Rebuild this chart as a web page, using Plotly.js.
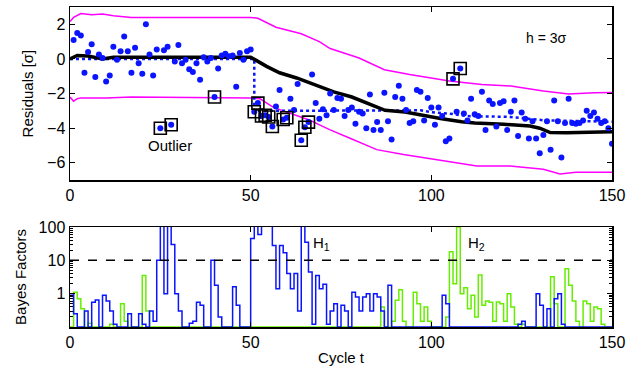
<!DOCTYPE html>
<html>
<head>
<meta charset="utf-8">
<script src="https://cdn.plot.ly/plotly-3.0.1.min.js"></script>
<style>html,body{margin:0;padding:0;background:#fff;}#chart{width:630px;height:370px;}</style>
</head>
<body>
<div id="chart"></div>
<script>
// Residuals for cycles 1..150
const residuals = [
  1.1, 1.5, 1.35, -0.8, 0.4, 0.85, -1.05, 0.25, 0.05, -1.3,
  -0.95, 0.7, -0.05, 0.45, 1.3, 0.45, -0.8, 0.65, -0.25, -0.85,
  2.0, 0.25, -0.95, 0.55, -4.0, 0.5, 0.7, -3.8, -0.15, 0.8,
  -0.25, -0.05, -0.6, -0.75, -0.25, -1.2, 0.1, -0.15, 0.05, -2.2,
  -0.55, 0.2, 0.3, 0.15, 0.2, -1.6, 0.35, -0.05, 0.45, 0.55,
  -3.05, -2.55, -3.3, -3.25, -3.35, -3.9, -2.75, -1.8, -3.5, -3.4,
  -2.3, -2.95, -1.45, -4.7, -3.95, -3.65, -0.9, -2.55, -3.45, -2.9,
  -3.25, -2.0, -2.95, -2.25, -2.3, -3.3, -2.95, -2.8, -3.75, -3.05,
  -3.15, -4.0, -2.05, -4.1, -3.65, -4.1, -1.95, -3.6, -4.65, -2.2,
  -1.55, -2.3, -2.95, -3.7, -3.6, -1.8, -1.9, -3.55, -2.25, -2.8,
  -3.8, -2.8, -3.3, -4.75, -4.6, -1.15, -3.05, -0.55, -3.15, -3.55,
  -2.3, -3.2, -3.3, -1.9, -4.1, -2.4, -2.6, -3.9, -2.55, -2.45,
  -4.1, -3.05, -2.4, -4.45, -3.1, -3.45, -4.6, -3.6, -4.6, -5.45,
  -4.4, -3.6, -5.25, -2.4, -3.6, -5.7, -3.7, -2.3, -3.7, -3.75,
  -3.7, -3.55, -3.0, -3.3, -3.1, -3.45, -3.7, -3.6, -4.0, -4.9
];
// Cycles flagged as outliers (boxed)
const outlierCycles = [25, 28, 40, 51, 52, 53, 54, 55, 56, 59, 60, 64, 65, 66, 106, 108];

// Running level estimate (black)
const levelT = [0, 2, 5, 9, 12, 50, 54.4, 58, 62.7, 67.3, 73, 78, 82.6, 87.2, 92.7, 97.3, 102.9, 108.4, 112, 120, 127.3, 130, 132.9, 137.5, 150];
const levelV = [0, 0.2, 0.17, 0, 0.1, 0.1, -0.43, -0.8, -1.1, -1.47, -1.9, -2.2, -2.6, -2.97, -3.07, -3.26, -3.45, -3.63, -3.7, -3.77, -3.88, -4.0, -4.25, -4.27, -4.2];

// Upper / lower control limits (magenta)
const upperT = [0, 1, 3, 6, 9, 12, 17, 50, 52, 57, 64, 69, 72, 80, 87, 94, 105, 114, 122, 131, 138, 145, 150];
const upperV = [2.16, 2.4, 2.62, 2.55, 2.6, 2.5, 2.4, 2.4, 2.35, 1.83, 1.45, 1.0, 0.6, 0.05, -0.62, -0.9, -1.28, -1.47, -1.56, -1.85, -2.03, -1.95, -1.94];
const lowerT = [0, 1, 2, 3, 10, 17, 50, 52.6, 56.3, 62.7, 66.4, 69.2, 72, 77.5, 84.9, 92.3, 103.3, 112.6, 121.8, 131, 135.6, 140, 150];
const lowerV = [-2.2, -2.45, -2.3, -2.25, -2.25, -2.2, -2.25, -2.3, -2.8, -3.26, -3.54, -3.82, -4.1, -4.58, -5.24, -5.52, -5.9, -6.18, -6.18, -6.37, -6.65, -6.55, -6.55];

// Robust estimate (blue dotted)
const robustT = [0, 51, 51, 70, 97, 100, 105, 110, 121.8, 131, 150];
const robustV = [0, 0, -3.0, -3.0, -2.97, -3.07, -3.16, -3.3, -3.35, -3.54, -3.63];

// Bayes factors per cycle 0..150
const bayesH1 = [
  1.0, 0.25, 0.1, 0.1, 0.3, 0.1, 0.55, 0.65, 0.1, 0.9,
  0.6, 0.3, 0.12, 0.1, 0.1, 0.1, 0.25, 0.1, 0.1, 0.25,
  0.12, 0.1, 0.3, 0.15, 10, 150, 1.0, 150, 30, 1.0,
  0.3, 0.1, 0.1, 0.13, 0.15, 0.55, 0.45, 0.1, 0.1, 10,
  1.8, 0.2, 0.1, 0.1, 0.1, 1.6, 0.45, 0.1, 0.1, 0.1,
  45, 150, 60, 150, 150, 150, 28, 1.4, 28, 17,
  4, 1.4, 4, 0.3, 150, 35, 4.5, 0.12, 3.5, 1.4,
  1.9, 0.12, 0.3, 0.5, 0.1, 0.45, 0.3, 0.1, 1.1, 0.8,
  0.3, 0.8, 1.0, 0.3, 1.0, 0.8, 0.3, 0.1, 1.8, 0.1,
  0.1, 0.1, 0.1, 0.1, 0.1, 0.1, 0.1, 0.1, 0.1, 0.1,
  0.1, 0.1, 0.1, 0.9, 0.5, 0.1, 0.1, 0.1, 0.1, 0.1,
  0.1, 0.1, 0.1, 0.1, 0.1, 0.1, 0.1, 0.1, 0.1, 0.1,
  0.1, 0.1, 0.1, 0.1, 0.12, 0.15, 0.1, 0.1, 0.1, 1.0,
  0.45, 0.1, 0.35, 0.1, 0.7, 1.0, 0.12, 0.1, 0.1, 0.1,
  0.1, 0.1, 0.1, 0.1, 0.1, 0.1, 0.1, 0.1, 0.1, 0.1,
  0.1
];
const bayesH2 = [
  0.1, 1.1, 0.7, 0.35, 0.1, 0.13, 0.1, 0.1, 0.1, 0.1,
  0.1, 0.12, 0.1, 0.1, 0.5, 0.15, 0.1, 0.1, 0.1, 0.1,
  3.5, 0.3, 0.1, 0.1, 0.1, 0.1, 0.1, 0.1, 0.1, 0.1,
  0.1, 0.1, 0.1, 0.1, 0.1, 0.1, 0.1, 0.1, 0.1, 0.1,
  0.1, 0.1, 0.1, 0.1, 0.1, 0.1, 0.1, 0.1, 0.1, 0.1,
  0.1, 0.1, 0.1, 0.1, 0.1, 0.1, 0.1, 0.1, 0.1, 0.1,
  0.1, 0.1, 0.1, 0.1, 0.1, 0.1, 0.1, 0.1, 0.1, 0.1,
  0.1, 0.1, 0.1, 0.1, 0.1, 0.1, 0.1, 0.1, 0.1, 0.1,
  0.1, 0.1, 0.1, 0.1, 0.1, 0.1, 0.4, 0.1, 0.1, 0.15,
  0.63, 1.3, 0.15, 0.1, 0.1, 1.1, 0.5, 0.15, 0.4, 0.15,
  0.1, 0.1, 0.1, 0.1, 0.2, 18, 2, 100, 1, 1.5,
  0.35, 0.9, 0.2, 3.6, 0.45, 0.6, 0.55, 0.15, 0.56, 0.5,
  0.15, 1.0, 0.4, 0.12, 0.1, 0.12, 0.1, 0.1, 0.1, 0.1,
  0.1, 0.1, 0.1, 3.2, 0.5, 0.1, 0.1, 5.6, 1.8, 0.6,
  0.15, 0.1, 0.6, 0.5, 0.15, 0.4, 0.35, 0.12, 0.1, 0.1,
  0.1
];
const threshold = 10;

const residualCycles = residuals.map((_, i) => i + 1);
const outY = outlierCycles.map(c => residuals[c - 1]);
const bayesCycles = bayesH1.map((_, i) => i);

const FONT = 'Liberation Sans, Arial, sans-serif';
const blue = '#0a14ff';
const green = '#66ee00';
const magenta = '#ff00ff';

const traces = [
  {x: upperT, y: upperV, mode: 'lines', line: {color: magenta, width: 1.5}, xaxis: 'x', yaxis: 'y', hoverinfo: 'skip'},
  {x: lowerT, y: lowerV, mode: 'lines', line: {color: magenta, width: 1.5}, xaxis: 'x', yaxis: 'y', hoverinfo: 'skip'},
  {x: robustT, y: robustV, mode: 'lines', line: {color: blue, width: 2.5, dash: 'dot'}, xaxis: 'x', yaxis: 'y'},
  {x: levelT, y: levelV, mode: 'lines', line: {color: '#000', width: 3.5}, xaxis: 'x', yaxis: 'y'},
  {x: residualCycles, y: residuals, mode: 'markers', marker: {color: blue, size: 6, symbol: 'circle'}, xaxis: 'x', yaxis: 'y'},
  {x: outlierCycles, y: outY, mode: 'markers', marker: {color: '#000', size: 12, symbol: 'square-open', line: {color: '#000', width: 1.6}}, xaxis: 'x', yaxis: 'y'},
  {x: bayesCycles, y: bayesH2, mode: 'lines', line: {color: green, width: 1.5, shape: 'hv'}, xaxis: 'x2', yaxis: 'y2'},
  {x: bayesCycles, y: bayesH1, mode: 'lines', line: {color: blue, width: 1.5, shape: 'hv'}, xaxis: 'x2', yaxis: 'y2'},
  {x: [0, 150], y: [threshold, threshold], mode: 'lines', line: {color: '#000', width: 1.5, dash: 'dash'}, xaxis: 'x2', yaxis: 'y2'}
];

const axisCommon = {
  showline: true, linecolor: '#000', linewidth: 1.5, mirror: 'ticks',
  ticks: 'inside', ticklen: 5, tickwidth: 1, tickcolor: '#000',
  showgrid: false, zeroline: false,
  tickfont: {family: FONT, size: 16, color: '#000'}
};

const layout = {
  width: 630, height: 370,
  margin: {l: 70, r: 18, t: 7, b: 43},
  paper_bgcolor: '#fff', plot_bgcolor: '#fff',
  showlegend: false,
  font: {family: FONT, color: '#000'},
  xaxis: Object.assign({}, axisCommon, {domain: [0, 1], range: [0, 150], anchor: 'y', tickvals: [0, 50, 100, 150]}),
  yaxis: Object.assign({}, axisCommon, {domain: [0.459, 1], range: [-7, 3], anchor: 'x', tickvals: [-6, -4, -2, 0, 2],
    title: {text: 'Residuals [σ]', font: {family: FONT, size: 15}, standoff: 10}}),
  xaxis2: Object.assign({}, axisCommon, {domain: [0, 1], range: [0, 150], anchor: 'y2', tickvals: [0, 50, 100, 150],
    title: {text: 'Cycle t', font: {family: FONT, size: 15}, standoff: 3}}),
  yaxis2: Object.assign({}, axisCommon, {domain: [0, 0.3125], type: 'log', range: [-1, 2], anchor: 'x2',
    tickvals: [1, 10, 100], ticktext: ['1', '10', '100'],
    minor: {tickvals: [0.2, 0.3, 0.4, 0.5, 0.6, 0.7, 0.8, 0.9, 2, 3, 4, 5, 6, 7, 8, 9, 20, 30, 40, 50, 60, 70, 80, 90], ticklen: 3, ticks: 'inside', tickcolor: '#000'},
    title: {text: 'Bayes Factors', font: {family: FONT, size: 15}, standoff: 8}}),
  annotations: [
    {x: 27.7, y: -5.0, xref: 'x', yref: 'y', text: 'Outlier', showarrow: false, font: {family: FONT, size: 15}},
    {x: 132, y: 1.2, xref: 'x', yref: 'y', text: 'h = 3σ', showarrow: false, font: {family: FONT, size: 14}},
    {x: 69.5, y: 1.5, xref: 'x2', yref: 'y2', text: 'H<sub>1</sub>', showarrow: false, font: {family: FONT, size: 15}},
    {x: 112.5, y: 1.5, xref: 'x2', yref: 'y2', text: 'H<sub>2</sub>', showarrow: false, font: {family: FONT, size: 15}}
  ]
};

Plotly.newPlot('chart', traces, layout, {staticPlot: true, displayModeBar: false});
</script>
</body>
</html>
